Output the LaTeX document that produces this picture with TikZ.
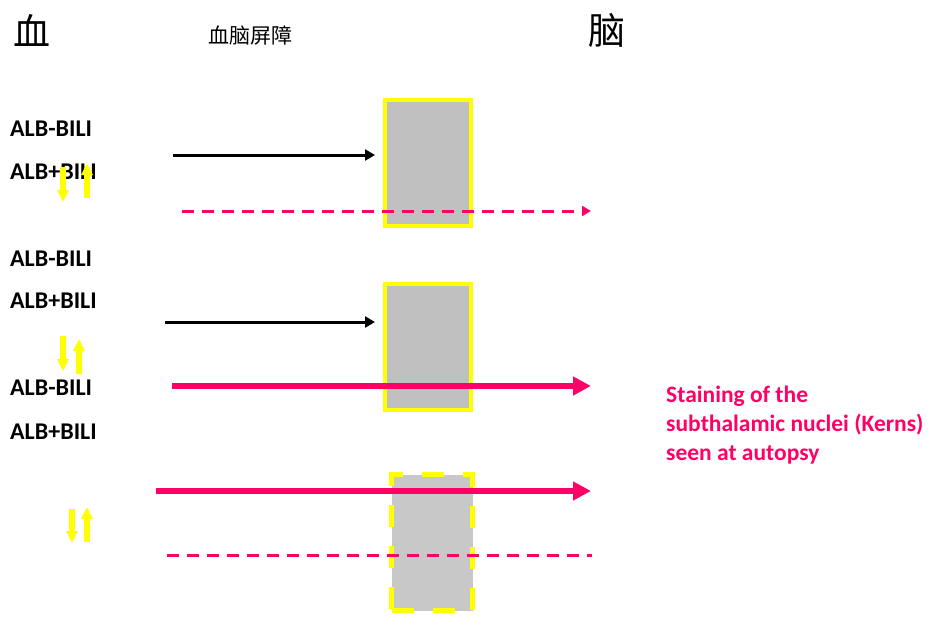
\documentclass[tikz,border=0pt]{standalone}
\usepackage{fontspec}
\setmainfont{Carlito}
\newfontfamily\cjk{Noto Sans CJK SC}
\usetikzlibrary{arrows.meta}
\definecolor{pinkred}{RGB}{255,0,102}
\definecolor{ylw}{RGB}{255,255,0}
\definecolor{boxgray}{RGB}{192,192,192}
\definecolor{boxgraylt}{RGB}{200,200,200}
\tikzset{
  lbl/.style={anchor=west,inner sep=0pt,font=\bfseries\fontsize{24}{27}\selectfont},
  cjkbig/.style={anchor=center,inner sep=0pt,font=\cjk\fontsize{37}{40}\selectfont},
  cjksmall/.style={anchor=center,inner sep=0pt,font=\cjk\fontsize{21}{24}\selectfont},
  yarrow/.style={draw=ylw,line width=6pt,-{Triangle[width=11pt,length=12pt]}},
  blackarrow/.style={draw=black,line width=3pt,-{Triangle[width=11pt,length=10pt]}},
  pinkdash/.style={draw=pinkred,line width=3pt,dash pattern=on 12pt off 8pt},
  pinkthick/.style={draw=pinkred,line width=6pt,-{Triangle[width=18pt,length=18pt]}},
  barrier/.style={draw=ylw,line width=4pt,fill=boxgray},
  barrierdash/.style={draw=ylw,line width=5pt,dash pattern=on 22pt off 19pt,fill=boxgraylt},
  note/.style={anchor=west,inner sep=0pt,align=left,text=pinkred,font=\bfseries\fontsize{23.5}{29}\selectfont}
}
\begin{document}
\begin{tikzpicture}[x=1pt,y=-1pt]
\useasboundingbox (0,0) rectangle (936,643);
% headings
\node[cjkbig] (blood) at (32,30) {血};
\node[cjksmall] (bbb) at (250,36) {血脑屏障};
\node[cjkbig] (brain) at (607,31) {脑};
% barriers
\node[barrier,minimum width=86pt,minimum height=126pt,inner sep=0pt] (b1) at (427.5,163) {};
\node[barrier,minimum width=86pt,minimum height=126pt,inner sep=0pt] (b2) at (427.5,346.5) {};
\node[barrierdash,minimum width=81pt,minimum height=136pt,inner sep=0pt] (b3) at (432,542.5) {};
% labels
\node[lbl] (l1) at (10,129) {ALB-BILI};
\node[lbl] (l2) at (10,172) {ALB+BILI};
\node[lbl] (l3) at (10,259) {ALB-BILI};
\node[lbl] (l4) at (10,301) {ALB+BILI};
\node[lbl] (l5) at (10,388) {ALB-BILI};
\node[lbl] (l6) at (10,432) {ALB+BILI};
% yellow equilibrium arrows
\coordinate (y1a) at (63,167); \coordinate (y1b) at (63,202);
\coordinate (y1c) at (87,198); \coordinate (y1d) at (87,163);
\draw[yarrow] (y1a) -- (y1b);
\draw[yarrow] (y1c) -- (y1d);
\coordinate (y2a) at (63,336); \coordinate (y2b) at (63,371);
\coordinate (y2c) at (79,374); \coordinate (y2d) at (79,339);
\draw[yarrow] (y2a) -- (y2b);
\draw[yarrow] (y2c) -- (y2d);
\coordinate (y3a) at (72,509); \coordinate (y3b) at (72,543);
\coordinate (y3c) at (87,542); \coordinate (y3d) at (87,507);
\draw[yarrow] (y3a) -- (y3b);
\draw[yarrow] (y3c) -- (y3d);
% black arrows
\coordinate (k1) at (173,155);
\coordinate (k1e) at (375,155);
\draw[blackarrow] (k1) -- (k1e);
\coordinate (k2) at (165,322);
\coordinate (k2e) at (375,322);
\draw[blackarrow] (k2) -- (k2e);
% pink dashed arrows
\coordinate (p1s) at (182,211); \coordinate (p1e) at (591,211);
\draw[pinkdash,-{Triangle[width=10pt,length=9pt]}] (p1s) -- (p1e);
\coordinate (p3s) at (167,555); \coordinate (p3e) at (592,555);
\draw[pinkdash] (p3s) -- (p3e);
% pink thick arrows
\coordinate (p2s) at (172,386); \coordinate (p2e) at (591,386);
\draw[pinkthick] (p2s) -- (p2e);
\coordinate (p4s) at (156,491); \coordinate (p4e) at (591,491);
\draw[pinkthick] (p4s) -- (p4e);
% note
\node[note] (kern) at (666,425) {Staining of the\\subthalamic nuclei (Kerns)\\seen at autopsy};
\end{tikzpicture}
\end{document}
